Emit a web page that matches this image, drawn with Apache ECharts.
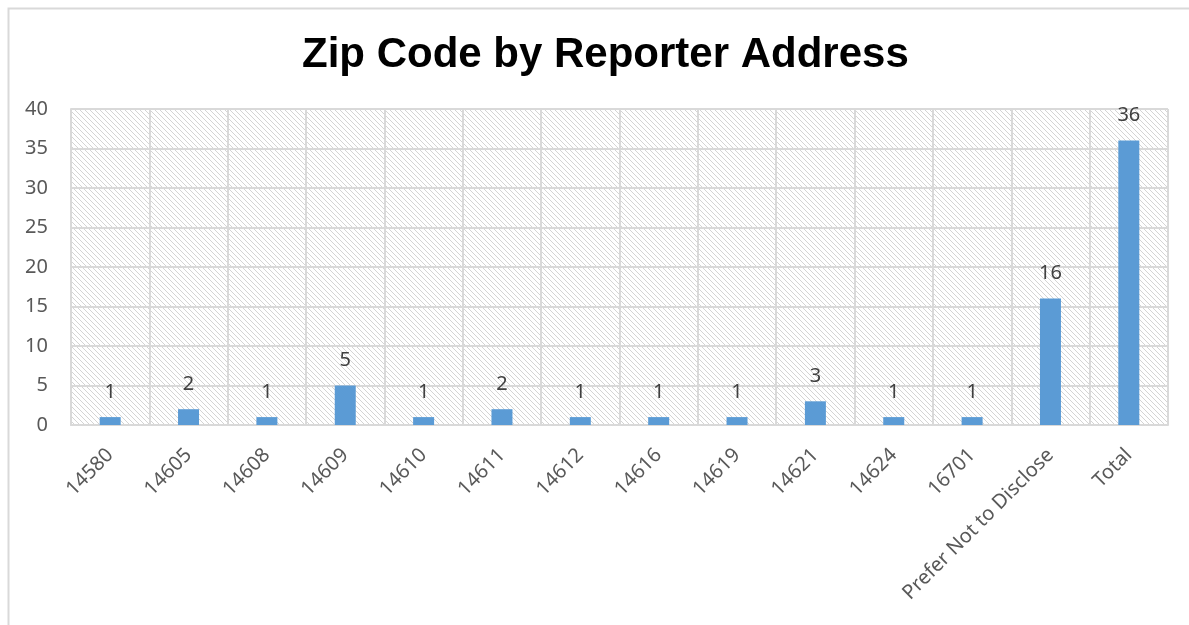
<!DOCTYPE html>
<html><head><meta charset="utf-8">
<script src="https://cdn.jsdelivr.net/npm/echarts@6/dist/echarts.min.js"></script>
<style>html,body{margin:0;padding:0;background:#fff}#c{width:1189px;height:625px}</style>
</head><body><div id="c"></div>
<script>
const categories = ["14580","14605","14608","14609","14610","14611","14612","14616","14619","14621","14624","16701","Prefer Not to Disclose","Total"];
const counts = [1,2,1,5,1,2,1,1,1,3,1,1,16,36];
const yTicks = [0,5,10,15,20,25,30,35,40];

const pc = document.createElement('canvas');
pc.width = 5; pc.height = 5;
const ctx = pc.getContext('2d');
ctx.fillStyle = '#fff'; ctx.fillRect(0,0,5,5);
ctx.fillStyle = '#d4d4d4';
for (let i = 0; i < 5; i++) ctx.fillRect(i, i, 1, 1);

const chart = echarts.init(document.getElementById('c'));
chart.setOption({
  animation: false,
  backgroundColor: '#fff',
  title: {
    text: 'Zip Code by Reporter Address',
    left: 297, top: 29,
    textStyle: {fontFamily: 'Liberation Sans, Arial', fontWeight: 'bold', fontSize: 42, color: '#000'}
  },
  graphic: [{
    type: 'rect', left: 6, top: 6, silent: true,
    shape: {width: 1300, height: 700},
    style: {fill: 'none', stroke: '#d9d9d9', lineWidth: 2}
  }],
  grid: {
    left: 71, right: 21, top: 109, bottom: 200, show: true,
    backgroundColor: {image: pc, repeat: 'repeat'},
    borderWidth: 0
  },
  xAxis: {
    type: 'category', data: categories,
    axisLine: {lineStyle: {color: '#d9d9d9', width: 2}},
    axisTick: {show: false},
    splitLine: {show: true, lineStyle: {color: '#d9d9d9', width: 2}},
    axisLabel: {rotate: 45, interval: 0, fontFamily: 'Noto Sans', fontSize: 20, color: '#595959', margin: 27}
  },
  yAxis: {
    type: 'value', min: 0, max: 40, interval: 5,
    axisLine: {show: true, lineStyle: {color: '#d9d9d9', width: 2}},
    axisTick: {show: false},
    splitLine: {show: true, lineStyle: {color: '#d9d9d9', width: 2}},
    axisLabel: {fontFamily: 'Noto Sans', fontSize: 20, color: '#595959', margin: 23,
      formatter: v => yTicks.includes(v) ? String(v) : ''}
  },
  series: [{
    type: 'bar', data: counts, barWidth: 21,
    itemStyle: {color: '#5b9bd5'},
    label: {show: true, position: 'top', distance: 15, fontFamily: 'Noto Sans', fontSize: 20, color: '#404040'}
  }]
});
</script></body></html>
